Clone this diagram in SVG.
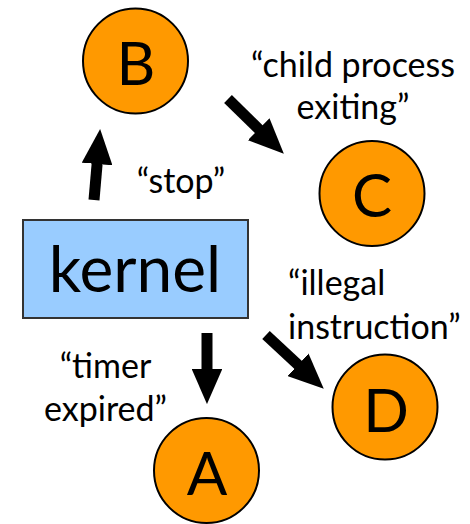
<svg xmlns="http://www.w3.org/2000/svg" width="470" height="524" viewBox="0 0 470 524">
  <style>
    .proc { fill: #FF9900; stroke: #000; stroke-width: 2; }
    .box { fill: #99CCFF; stroke: #333; stroke-width: 2; }
    .letter { font-family: Lato, "Open Sans", sans-serif; font-size: 60px; fill: #000; text-anchor: middle; }
    .big { font-family: Lato, "Open Sans", sans-serif; font-size: 64px; fill: #000; text-anchor: middle; }
    .lbl { font-family: Lato, "Open Sans", sans-serif; font-size: 34px; fill: #000; }
    .arrow { stroke: #000; stroke-width: 11; fill: none; marker-end: url(#head); }
  </style>
  <defs>
    <marker id="head" viewBox="0 0 3.2 2.8" refX="0.1" refY="1.4" markerWidth="3.2" markerHeight="2.8" orient="auto" markerUnits="strokeWidth">
      <path d="M0,0 L3.2,1.4 L0,2.8 Z" fill="#000"/>
    </marker>
  </defs>

  <!-- signal arrows -->
  <g id="connectors">
    <line class="arrow" x1="94" y1="200" x2="97.2" y2="162.9"/>
    <line class="arrow" x1="228" y1="99" x2="259.5" y2="129.9"/>
    <line class="arrow" x1="207" y1="333" x2="207" y2="370"/>
    <line class="arrow" x1="266" y1="335" x2="298.8" y2="365.5"/>
  </g>

  <g id="kernel">
    <rect class="box" x="23" y="220" width="225" height="98"/>
    <text class="big" x="135" y="292">kernel</text>
  </g>

  <g id="procB">
    <circle class="proc" cx="135.5" cy="61" r="52.5"/>
    <text class="letter" x="136" y="85">B</text>
  </g>
  <g id="procC">
    <circle class="proc" cx="372" cy="193.5" r="52.5"/>
    <text class="letter" x="372" y="217">C</text>
  </g>
  <g id="procD">
    <circle class="proc" cx="385" cy="407" r="52.5"/>
    <text class="letter" x="386" y="432">D</text>
  </g>
  <g id="procA">
    <circle class="proc" cx="206.5" cy="470.5" r="52.5"/>
    <text class="letter" x="207" y="495">A</text>
  </g>

  <!-- arrow labels -->
  <g id="labels">
    <text class="lbl" x="353" y="77" text-anchor="middle">“child process</text>
    <text class="lbl" x="353" y="119" text-anchor="middle">exiting”</text>
    <text class="lbl" x="181" y="193" text-anchor="middle">“stop”</text>
    <text class="lbl" x="288" y="295">“illegal</text>
    <text class="lbl" x="288" y="339">instruction”</text>
    <text class="lbl" x="105.5" y="378" text-anchor="middle">“timer</text>
    <text class="lbl" x="105.5" y="421" text-anchor="middle">expired”</text>
  </g>
</svg>
